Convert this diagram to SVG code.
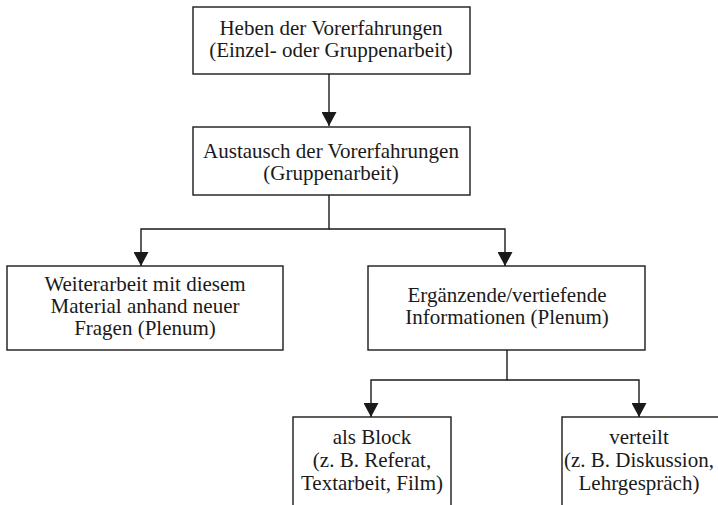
<svg xmlns="http://www.w3.org/2000/svg" width="718" height="505" viewBox="0 0 718 505">
<style>
.box{fill:#fff;stroke:#1a1a1a;stroke-width:1.4}
.t{font-family:"Liberation Serif","Times New Roman",serif;font-size:21px;fill:#1a1a1a;text-anchor:middle}
.c{fill:none;stroke:#1a1a1a;stroke-width:1.4}
</style>
<defs>
<marker id="ah" markerUnits="userSpaceOnUse" markerWidth="14" markerHeight="15" refX="14" refY="7.5" orient="auto" viewBox="0 0 14 15">
<path d="M0,0 L14,7.5 L0,15 Z" fill="#1a1a1a"/>
</marker>
</defs>
<rect width="718" height="505" fill="#fff"/>
<g id="connectors">
<path class="c" d="M329,74 V126" marker-end="url(#ah)"/>
<path class="c" d="M329,195 V229 H141 V266" marker-end="url(#ah)"/>
<path class="c" d="M329,229 H505 V266" marker-end="url(#ah)"/>
<path class="c" d="M507,350 V380 H371 V417" marker-end="url(#ah)"/>
<path class="c" d="M507,380 H639 V417" marker-end="url(#ah)"/>
</g>
<g id="n1">
<rect class="box" x="193" y="7" width="277" height="67"/>
<text class="t" x="331" y="35">Heben der Vorerfahrungen</text>
<text class="t" x="331" y="57">(Einzel- oder Gruppenarbeit)</text>
</g>
<g id="n2">
<rect class="box" x="193" y="127" width="277" height="68"/>
<text class="t" x="331" y="158">Austausch der Vorerfahrungen</text>
<text class="t" x="331" y="180">(Gruppenarbeit)</text>
</g>
<g id="n3">
<rect class="box" x="7" y="266" width="276" height="84"/>
<text class="t" x="145" y="291">Weiterarbeit mit diesem</text>
<text class="t" x="145" y="313">Material anhand neuer</text>
<text class="t" x="145" y="335">Fragen (Plenum)</text>
</g>
<g id="n4">
<rect class="box" x="368" y="266" width="277" height="84"/>
<text class="t" x="507" y="302">Ergänzende/vertiefende</text>
<text class="t" x="507" y="324">Informationen (Plenum)</text>
</g>
<g id="n5">
<rect class="box" x="293" y="417" width="158" height="100"/>
<text class="t" x="372" y="444">als Block</text>
<text class="t" x="372" y="467">(z. B. Referat,</text>
<text class="t" x="372" y="490">Textarbeit, Film)</text>
</g>
<g id="n6">
<rect class="box" x="562" y="417" width="170" height="100"/>
<text class="t" x="639" y="444">verteilt</text>
<text class="t" x="639" y="467">(z. B. Diskussion,</text>
<text class="t" x="639" y="490">Lehrgespräch)</text>
</g>
</svg>
